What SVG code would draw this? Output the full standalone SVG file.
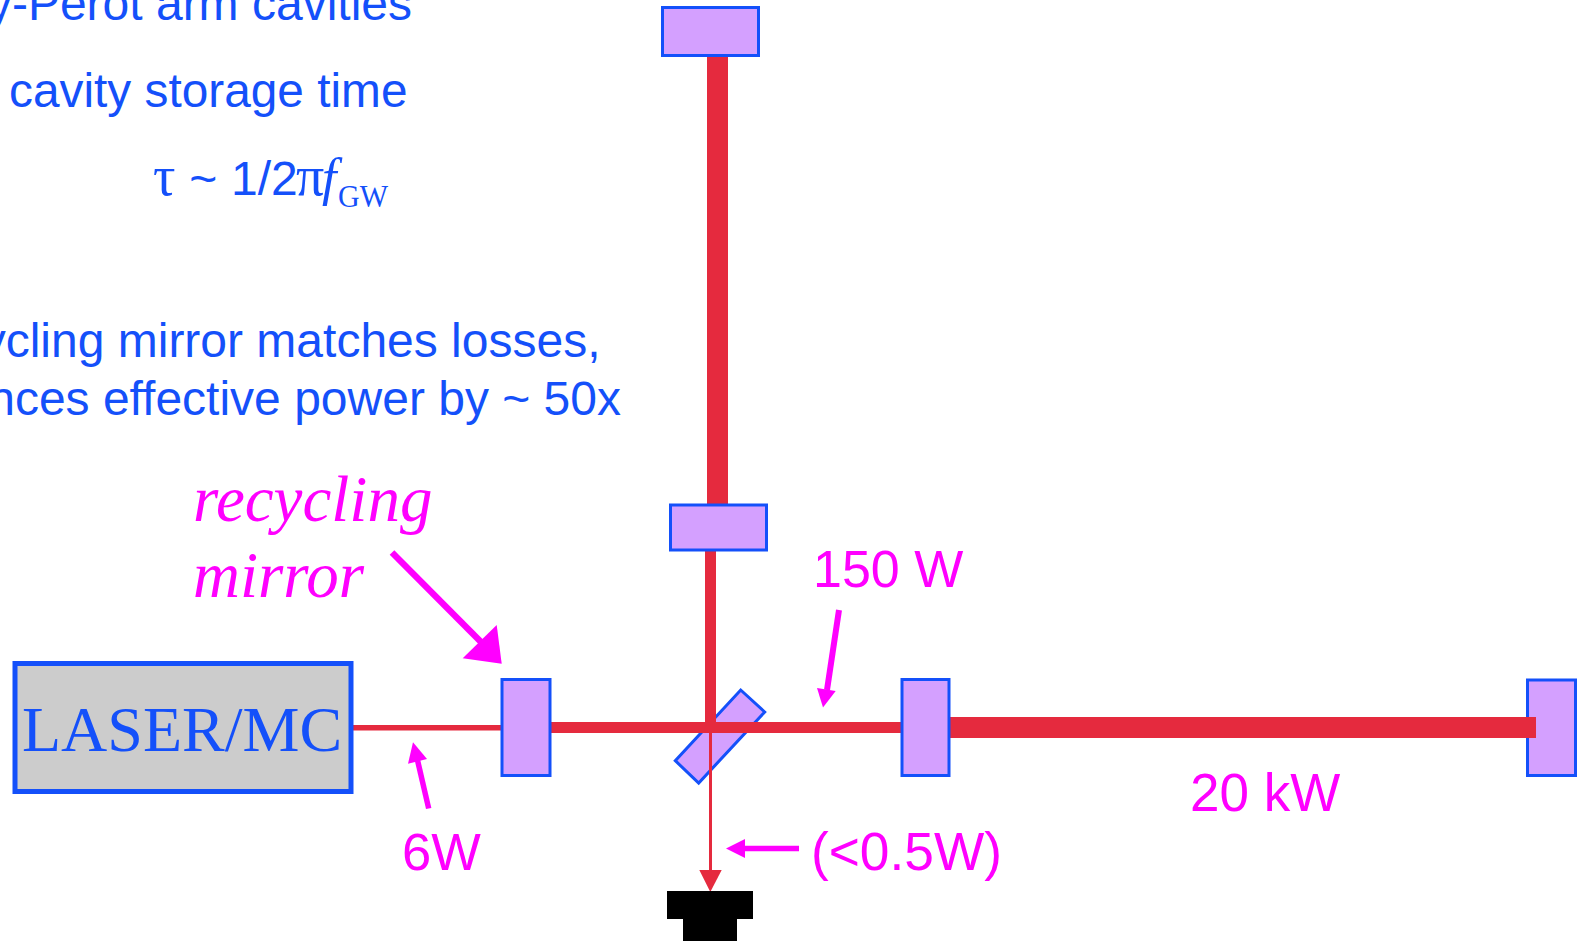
<svg xmlns="http://www.w3.org/2000/svg" width="1577" height="941" viewBox="0 0 1577 941">
<style>
.b{fill:#1450fa;font-family:"Liberation Sans",Arial,sans-serif;font-size:48px}
.s{font-family:"Liberation Serif","Times New Roman",serif}
.g{font-family:"Liberation Serif","Times New Roman",serif;font-size:56px}
.m{fill:#ff00ff;font-family:"Liberation Sans",Arial,sans-serif;font-size:52px}
.i{fill:#ff00ff;font-family:"Liberation Serif","Times New Roman",serif;font-size:65px;font-style:italic}
.mirror{fill:#d4a0ff;stroke:#1450fa;stroke-width:3}
.beam{fill:#e52a3e}
.pt{fill:#ff00ff}
.ps{stroke:#ff00ff;fill:none}
</style>
<rect width="1577" height="941" fill="#fff"/>
<g id="notes">
<text class="b" x="412" y="20" text-anchor="end">y-Perot arm cavities</text>
<text class="b" x="407.5" y="107" text-anchor="end" style="font-size:47.8px">cavity storage time</text>
<text class="b" y="195"><tspan class="g" x="153">τ</tspan><tspan x="176"> ~ </tspan><tspan x="231">1/2</tspan><tspan class="g" x="296">π</tspan><tspan class="s" x="322" font-style="italic" style="font-size:52px">f</tspan><tspan class="s" x="338" dy="12" style="font-size:32px" textLength="50" lengthAdjust="spacingAndGlyphs">GW</tspan></text>
<text class="b" x="600.5" y="357" text-anchor="end">ycling mirror matches losses,</text>
<text class="b" x="621" y="415" text-anchor="end">nces effective power by ~ 50x</text>
</g>
<g id="connectors">
<rect class="beam" x="707" y="55" width="21" height="450"/>
<rect class="beam" x="705" y="551" width="11" height="150"/>
<rect class="beam" x="353" y="725" width="149" height="5.5"/>
<rect class="beam" x="550" y="722" width="352" height="11"/>
<rect class="beam" x="949" y="717" width="580" height="21"/>
</g>
<g id="beamsplitter"><polygon class="mirror" points="740.7,690 764.7,712 698.7,783 675.3,760.7"/></g>
<g id="laser">
<rect x="15" y="663.5" width="336" height="128" fill="#cccccc" stroke="#1450fa" stroke-width="5"/>
<text x="22" y="751" fill="#1450fa" font-family="Liberation Serif,serif" font-size="64">LASER/MC</text>
</g>
<g id="mirror-top"><rect class="mirror" x="662.5" y="7.5" width="96" height="48"/></g>
<g id="mirror-lower"><rect class="mirror" x="670.5" y="505" width="96" height="45"/></g>
<g id="mirror-recycling"><rect class="mirror" x="502" y="679.5" width="48" height="96"/></g>
<g id="mirror-inner"><rect class="mirror" x="902" y="679.5" width="47" height="96"/></g>
<g id="mirror-end"><rect class="mirror" x="1527.5" y="680" width="48" height="95.5"/></g>
<g id="connectors-front">
<rect class="beam" x="705" y="700" width="11" height="33"/>
<rect class="beam" x="640" y="722" width="135" height="11"/>
<rect class="beam" x="1520" y="717" width="16" height="21"/>
<rect class="beam" x="709" y="733" width="3" height="138"/>
<polygon class="beam" points="699.3,870 721.7,870 710.3,892"/>
</g>
<g id="detector">
<rect x="667" y="891" width="86" height="28" fill="#000"/>
<rect x="683" y="918" width="54" height="23" fill="#000"/>
</g>
<g id="annotations">
<line class="ps" x1="392" y1="552.5" x2="482" y2="643" stroke-width="6.5"/>
<polygon class="pt" points="501.7,663.7 496.7,625 462.7,658.3"/>
<line class="ps" x1="428.7" y1="808.5" x2="417" y2="758" stroke-width="5.5"/>
<polygon class="pt" points="413,742.3 408,763.7 427,759"/>
<line class="ps" x1="839" y1="610" x2="827" y2="690" stroke-width="6"/>
<polygon class="pt" points="823,707.5 817,688 835.7,691"/>
<line class="ps" x1="799" y1="848.5" x2="744" y2="848.5" stroke-width="5.5"/>
<polygon class="pt" points="726,848.5 745,839 745,858"/>
<text class="i" x="193" y="521">recycling</text>
<text class="i" x="193" y="597">mirror</text>
<text class="m" x="813" y="587">150 W</text>
<text class="m" x="1190" y="811" style="font-size:53px">20 kW</text>
<text class="m" x="402" y="870" style="font-size:52.5px">6W</text>
<text class="m" x="811" y="869.5" style="font-size:53.3px">(&lt;0.5W)</text>
</g>
</svg>
